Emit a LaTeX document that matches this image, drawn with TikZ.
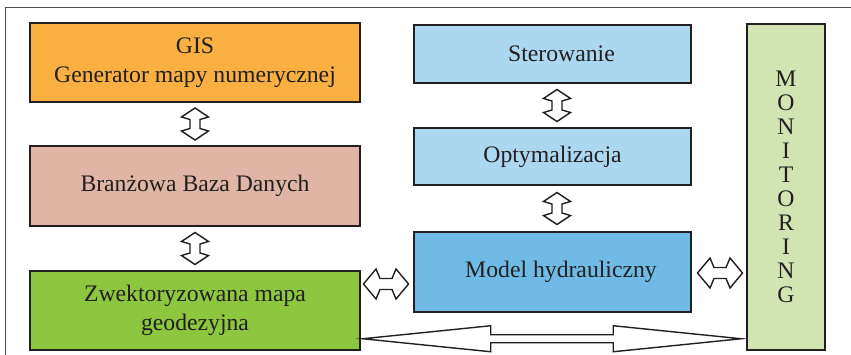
\documentclass[tikz,border=0pt]{standalone}
\usepackage{fontspec}
\setmainfont{Liberation Serif}
\usetikzlibrary{calc}

\definecolor{ink}{HTML}{231F20}
\definecolor{framegray}{HTML}{4D4D4D}
\definecolor{gisorange}{HTML}{F9B041}
\definecolor{dbrose}{HTML}{E0B5A5}
\definecolor{mapgreen}{HTML}{8DC63F}
\definecolor{ctrlblue}{HTML}{ABD7F1}
\definecolor{hydroblue}{HTML}{6FBBE6}
\definecolor{monigreen}{HTML}{D1E4B1}

\tikzset{
  box/.style={draw=ink, line width=1.5pt, text=ink, align=center, inner sep=0pt,
              font=\fontsize{23.7}{28.5}\selectfont},
  blockarrow/.style={draw=ink, fill=white, line width=1.4pt, line join=miter},
  vdbl/.pic={\draw[blockarrow] (0,16) -- (13.5,7) -- (5,4.5) -- (5,-4.5) -- (13.5,-7)
      -- (0,-16) -- (-13.5,-7) -- (-5,-4.5) -- (-5,4.5) -- (-13.5,7) -- cycle;},
  hdbl/.pic={\draw[blockarrow] (22.5,0) -- (10,15) -- (6,5.5) -- (-6,5.5) -- (-10,15)
      -- (-22.5,0) -- (-10,-15) -- (-6,-5.5) -- (6,-5.5) -- (10,-15) -- cycle;}
}

\begin{document}
\begin{tikzpicture}[x=1pt, y=-1pt]
\useasboundingbox (0,0) rectangle (851,355);

% outer frame
\draw[framegray, line width=0.8pt] (5,365) -- (5,7) -- (870,7);

% left column
\node[box, fill=gisorange, minimum width=330pt, minimum height=79pt] (gis) at (195,62.5)
  {GIS\\Generator mapy numerycznej};
\node[box, fill=dbrose, minimum width=330pt, minimum height=80pt] (baza) at (195,186)
  {Branżowa Baza Danych};
\node[box, fill=mapgreen, minimum width=330pt, minimum height=79pt] (zwek) at (195,310.5)
  {Zwektoryzowana mapa\\geodezyjna};

% middle column
\node[box, fill=ctrlblue, minimum width=277pt, minimum height=58pt] (ster) at (552.5,54)
  {\hspace*{18pt}Sterowanie};
\node[box, fill=ctrlblue, minimum width=277pt, minimum height=57pt] (opt) at (552.5,156.5)
  {Optymalizacja};
\node[box, fill=hydroblue, minimum width=277pt, minimum height=80pt] (model) at (552.5,272)
  {\hspace*{17pt}Model hydrauliczny};

% monitoring column
\node[box, fill=monigreen, minimum width=78pt, minimum height=326pt,
      font=\fontsize{23.7}{24}\selectfont] (mon) at (786,187)
  {M\\O\\N\\I\\T\\O\\R\\I\\N\\G};

% vertical links
\path ($(gis.south)!0.5!(baza.north)$) pic {vdbl};
\path ($(baza.south)!0.5!(zwek.north)$) pic {vdbl};
\path ($(ster.south)!0.5!(opt.north) + (4.5,0)$) pic {vdbl};
\path ($(opt.south)!0.5!(model.north) + (4.5,0)$) pic {vdbl};

% horizontal links
\path ($(zwek.east |- model.center)!0.5!(model.west) + (-1,12)$) pic {hdbl};
\path ($(model.east)!0.5!(mon.west |- model.east) + (1,1)$) pic {hdbl};

% long link along the bottom
\coordinate (bl) at ($(zwek.south east) + (2,-12)$);
\coordinate (br) at ($(mon.west |- bl) + (-5,0)$);
\draw[blockarrow] (bl) -- ($(bl)+(128,-13)$) -- ($(bl)+(128,-4)$) -- ($(br)+(-128,-4)$)
  -- ($(br)+(-128,-13)$) -- (br) -- ($(br)+(-128,13)$) -- ($(br)+(-128,4)$)
  -- ($(bl)+(128,4)$) -- ($(bl)+(128,13)$) -- cycle;
\end{tikzpicture}
\end{document}
